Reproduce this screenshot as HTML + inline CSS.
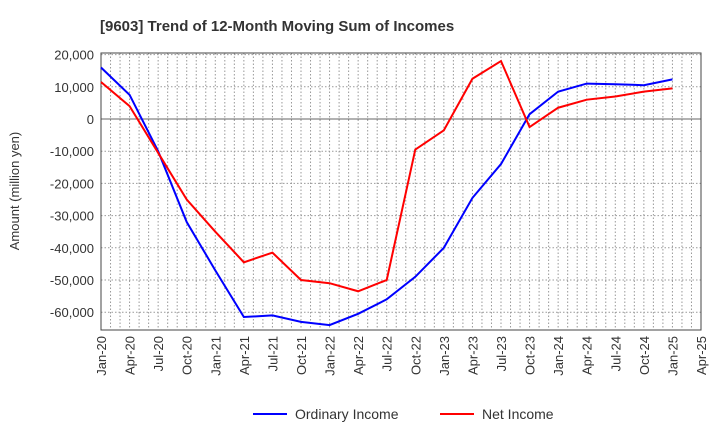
<!DOCTYPE html>
<html><head><meta charset="utf-8"><style>
body{margin:0;background:#fff;font-family:"Liberation Sans",sans-serif}
</style></head><body>
<svg width="720" height="440" xmlns="http://www.w3.org/2000/svg" font-family="Liberation Sans, sans-serif">
<text x="100" y="31" font-size="15" font-weight="bold" fill="#333">[9603]  Trend of 12-Month Moving Sum of Incomes</text>
<g id="grid"></g>
<g id="axes"></g>
<g id="series"></g>
<text transform="translate(19,191) rotate(-90)" text-anchor="middle" font-size="13" fill="#333">Amount (million yen)</text>
<g>
<line x1="253" y1="414" x2="287" y2="414" stroke="#0000ff" stroke-width="2"/>
<text x="295" y="419" font-size="14" fill="#333">Ordinary Income</text>
<line x1="440" y1="414" x2="474" y2="414" stroke="#ff0000" stroke-width="2"/>
<text x="482" y="419" font-size="14" fill="#333">Net Income</text>
</g>
</svg>
<script>
const xLabels=["Jan-20","Apr-20","Jul-20","Oct-20","Jan-21","Apr-21","Jul-21","Oct-21","Jan-22","Apr-22","Jul-22","Oct-22","Jan-23","Apr-23","Jul-23","Oct-23","Jan-24","Apr-24","Jul-24","Oct-24","Jan-25","Apr-25"];
const yTicks=[20000,10000,0,-10000,-20000,-30000,-40000,-50000,-60000];
const ordinaryIncome=[16000,7500,-10000,-32000,-47000,-61500,-61000,-63000,-64000,-60500,-56000,-49000,-40000,-24500,-14000,1500,8500,11000,10800,10500,12300];
const netIncome=[11500,4000,-10500,-25000,-35000,-44500,-41500,-50000,-51000,-53500,-50000,-9500,-3500,12500,18000,-2500,3500,6000,7000,8500,9500];
const L=101,R=701,T=53,B=330;
const x=i=>L+i*(R-L)/(xLabels.length-1);
const y=v=>119-v*0.00322;
const NS="http://www.w3.org/2000/svg";
function mk(t,a,p){const e=document.createElementNS(NS,t);for(const k in a)e.setAttribute(k,a[k]);p.appendChild(e);return e;}
const grid=document.getElementById('grid'),axes=document.getElementById('axes'),ser=document.getElementById('series');
for(let m=1;m<(xLabels.length-1)*3;m++){const xx=L+m*(R-L)/((xLabels.length-1)*3);
const g=mk('line',{x1:xx,x2:xx,y1:T,y2:B,stroke:'#999','stroke-dasharray':'1.5,2','stroke-width':1},grid);
}
yTicks.forEach(v=>{const g=mk('line',{x1:L,x2:R,y1:y(v),y2:y(v),stroke:v===0?'#666':'#999','stroke-dasharray':v===0?'':'1.5,2','stroke-width':1},grid);

const t=mk('text',{x:L-7,y:y(v)+5,'text-anchor':'end','font-size':13,fill:'#333'},axes);t.textContent=v.toLocaleString('en-US');
});
const fr=mk('rect',{x:L,y:T,width:R-L,height:B-T,fill:'none',stroke:'#444'},axes);

xLabels.forEach((s,i)=>{const t=mk('text',{transform:`translate(${x(i)+5},${B+6}) rotate(-90)`,'text-anchor':'end','font-size':13,fill:'#333'},axes);t.textContent=s;
});
function line(d,c,n){const p=mk('polyline',{points:d.map((v,i)=>x(i)+','+y(v)).join(' '),fill:'none',stroke:c,'stroke-width':2},ser);
}
line(ordinaryIncome,'#0000ff','ordinary-income-line');
line(netIncome,'#ff0000','net-income-line');
</script>
</body></html>
